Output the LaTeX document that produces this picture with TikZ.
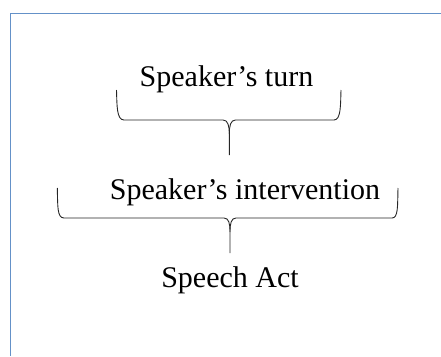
\documentclass[tikz,border=0pt]{standalone}
\usepackage{fontspec}
\setmainfont{Liberation Serif}
\begin{document}
\begin{tikzpicture}[x=1pt,y=-1pt,
  label/.style={inner sep=0pt,anchor=base,font=\fontsize{30}{30}\selectfont},
  bracepath/.style={draw=black!85,line width=0.9pt,line join=round},
  framepath/.style={draw={rgb,255:red,100;green,145;blue,200},line width=1.3pt}]
\useasboundingbox (0,0) rectangle (441,356);
% partial frame along the top and left
\draw[framepath] (441,13.5) -- (10.5,13.5) -- (10.5,356);
% labels
\node[label] (turn) at (226.5,86) {Speaker’s turn};
\node[label] (inter) at (245,199) {Speaker’s intervention};
\node[label] (act) at (230,287) {Speech Act};
% upper brace
\coordinate (ub) at (229.3,155);
\draw[bracepath] (116.5,90) .. controls (117,105) and (116.5,120) .. (124,120)
  -- (223,120) .. controls (228,120) and (229.3,126) .. (229.3,134) -- (ub);
\draw[bracepath] (341,90) .. controls (340.5,105) and (341,120) .. (334,120)
  -- (235.5,120) .. controls (230.5,120) and (229.3,126) .. (229.3,134);
% lower brace
\coordinate (lb) at (230,253);
\draw[bracepath] (57.3,188) .. controls (57.8,206) and (57,218) .. (64,218)
  -- (224,218) .. controls (229,218) and (230,224) .. (230,232) -- (lb);
\draw[bracepath] (398,188) .. controls (397.5,206) and (398.3,218) .. (392,218)
  -- (236,218) .. controls (231,218) and (230,224) .. (230,232);
\end{tikzpicture}
\end{document}
